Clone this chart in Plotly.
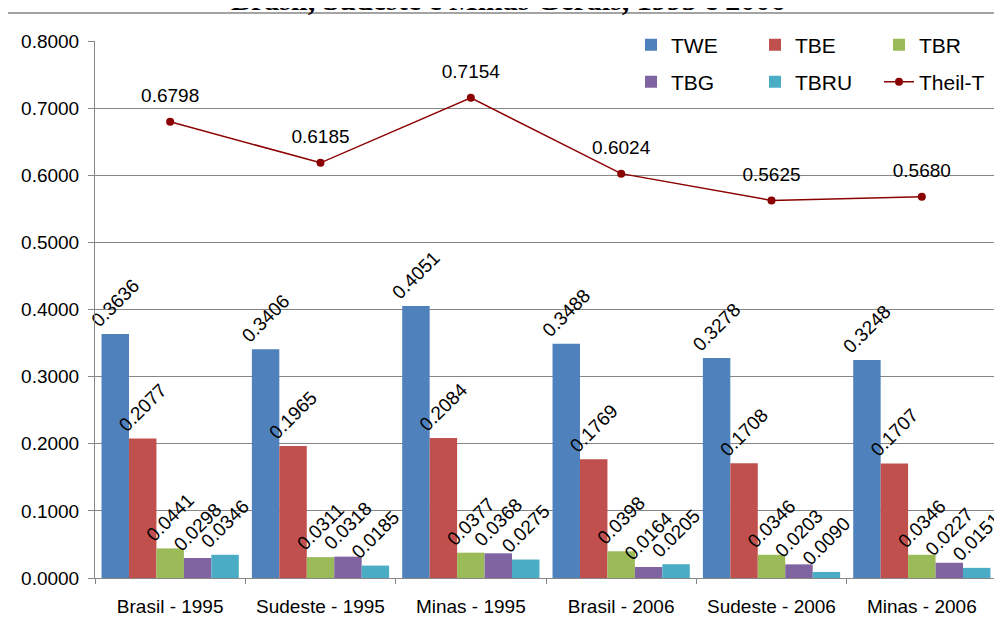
import plotly.graph_objects as go

categories = ["Brasil - 1995", "Sudeste - 1995", "Minas - 1995",
              "Brasil - 2006", "Sudeste - 2006", "Minas - 2006"]
twe = [0.3636, 0.3406, 0.4051, 0.3488, 0.3278, 0.3248]
tbe = [0.2077, 0.1965, 0.2084, 0.1769, 0.1708, 0.1707]
tbr = [0.0441, 0.0311, 0.0377, 0.0398, 0.0346, 0.0346]
tbg = [0.0298, 0.0318, 0.0368, 0.0164, 0.0203, 0.0227]
tbru = [0.0346, 0.0185, 0.0275, 0.0205, 0.0090, 0.0151]
theil_t = [0.6798, 0.6185, 0.7154, 0.6024, 0.5625, 0.5680]
y_ticks = [0.0, 0.1, 0.2, 0.3, 0.4, 0.5, 0.6, 0.7, 0.8]
title_text = "Brasil, Sudeste e Minas Gerais, 1995 e 2006"

FONT = "Liberation Sans, Arial, sans-serif"
W, H = 1002, 626
OFF = 8  # page body margin offset
ML = 95 - OFF
MT = 41 - OFF
MR = W - (997 - OFF)
MB = H - (578 - OFF)
PW, PH = W - ML - MR, H - MT - MB


def px_x(p):
    return (p - OFF - ML) / PW


def px_y(p):
    return 1 - (p - OFF - MT) / PH


bar_series = [
    ("TWE", twe, "#4F81BD", "legend", None),
    ("TBE", tbe, "#C0504D", "legend", None),
    ("TBR", tbr, "#9BBB59", "legend", 50),
    ("TBG", tbg, "#8064A2", "legend2", None),
    ("TBRU", tbru, "#4BACC6", "legend2", None),
]

fig = go.Figure()
for name, vals, color, lg, lw in bar_series:
    fig.add_trace(go.Bar(
        x=categories, y=vals, name=name, marker=dict(color=color, line=dict(width=0)),
        texttemplate="%{y:.4f}", textposition="outside", textangle=-45,
        constraintext="none", cliponaxis=False,
        outsidetextfont=dict(family=FONT, size=19, color="black"),
        legend=lg, legendwidth=lw,
    ))

fig.add_trace(go.Scatter(
    x=categories, y=theil_t, name="Theil-T", mode="lines+markers",
    line=dict(color="#8B0000", width=1.5),
    marker=dict(color="#8B0000", size=8),
    legend="legend2", legendwidth=66,
))
fig.add_trace(go.Scatter(
    x=categories, y=theil_t, mode="markers+text", showlegend=False,
    marker=dict(size=22, color="rgba(0,0,0,0)"),
    texttemplate="%{y:.4f}", textposition="top center",
    textfont=dict(family=FONT, size=19, color="black"),
    cliponaxis=False, hoverinfo="skip",
))

legend_common = dict(
    orientation="h", xanchor="left", yanchor="middle",
    bgcolor="white", borderwidth=0,
    font=dict(family=FONT, size=21, color="black"),
    entrywidth=79, entrywidthmode="pixels",
)

fig.update_layout(
    width=W, height=H,
    margin=dict(l=ML, r=MR, t=MT, b=MB, pad=0, autoexpand=False),
    paper_bgcolor="white", plot_bgcolor="white",
    barmode="group", bargap=0.087, bargroupgap=0,
    font=dict(family=FONT, size=19, color="black"),
    legend=dict(x=px_x(631), y=px_y(45), **legend_common),
    legend2=dict(x=px_x(631), y=px_y(82), **legend_common),
    xaxis=dict(
        type="category", showgrid=False, showline=True, linecolor="#868686",
        linewidth=1, ticks="outside", tickson="boundaries", ticklen=5,
        tickcolor="#868686", tickfont=dict(family=FONT, size=19, color="black"),
        ticklabelstandoff=11,
    ),
    yaxis=dict(
        range=[0, 0.8], tickvals=y_ticks, tickformat=".4f",
        showgrid=True, gridcolor="#868686", gridwidth=1,
        showline=True, linecolor="#868686", linewidth=1,
        ticks="outside", ticklen=6, tickcolor="#868686",
        tickfont=dict(family=FONT, size=19, color="black"),
        ticklabelstandoff=5, zeroline=False,
    ),
    shapes=[dict(
        type="rect", xref="paper", yref="paper",
        x0=px_x(7), y0=px_y(H + 40), x1=px_x(W + 40), y1=px_y(13),
        line=dict(color="#868686", width=1.5), fillcolor="rgba(0,0,0,0)",
        layer="below",
    )],
    annotations=[dict(
        text="<b>" + title_text + "</b>", xref="paper", yref="paper",
        x=px_x(508), y=px_y(-0.5), xanchor="center", yanchor="middle",
        showarrow=False,
        font=dict(family="Liberation Serif, Times New Roman, serif", size=30, color="black"),
    )],
)

fig.write_html("out.html")
